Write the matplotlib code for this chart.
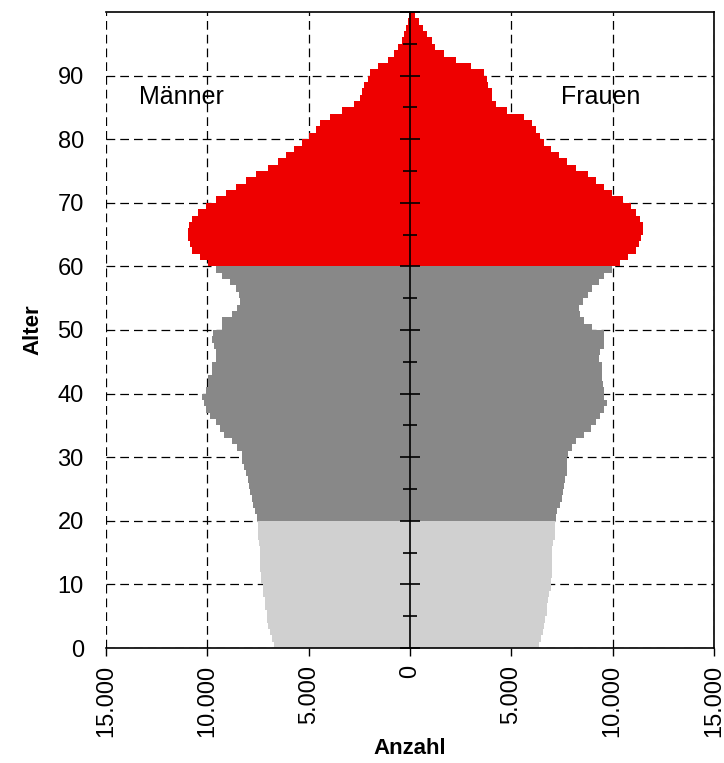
import numpy as np
import matplotlib
matplotlib.use("Agg")
import matplotlib.pyplot as plt
from matplotlib.ticker import FuncFormatter, MultipleLocator

plt.rcParams['font.family'] = ['Liberation Sans', 'DejaVu Sans']

# Alter 0..99, Anzahl in Tausend
ages = np.arange(100)

men_k = [
    6.72, 6.82, 6.92, 7.00, 7.05, 7.08, 7.16, 7.16, 7.25, 7.25,
    7.33, 7.33, 7.41, 7.41, 7.41, 7.41, 7.43, 7.48, 7.48, 7.50,
    7.57, 7.64, 7.74, 7.80, 7.87, 7.94, 8.00, 8.10, 8.20, 8.27,
    8.30, 8.56, 8.76, 9.19, 9.39, 9.58, 9.88, 10.05, 10.15, 10.25,
    10.05, 9.98, 9.98, 9.78, 9.78, 9.58, 9.58, 9.68, 9.78, 9.72,
    9.29, 9.29, 8.79, 8.56, 8.40, 8.45, 8.60, 8.89, 9.29, 9.58,
    9.98, 10.38, 10.77, 10.87, 10.97, 10.97, 10.90, 10.77, 10.47, 10.08,
    9.58, 9.09, 8.60, 8.10, 7.61, 7.02, 6.52, 6.13, 5.73, 5.34,
    4.97, 4.64, 4.45, 3.95, 3.36, 2.77, 2.47, 2.37, 2.27, 2.08,
    1.98, 1.58, 1.09, 0.79, 0.59, 0.40, 0.30, 0.20, 0.10, 0.07,
]

women_k = [
    6.36, 6.45, 6.55, 6.60, 6.65, 6.75, 6.78, 6.82, 6.85, 6.95,
    6.97, 7.02, 7.02, 7.02, 7.02, 7.02, 7.05, 7.15, 7.15, 7.15,
    7.18, 7.25, 7.38, 7.48, 7.54, 7.58, 7.67, 7.74, 7.77, 7.77,
    7.80, 8.00, 8.20, 8.60, 8.93, 9.16, 9.39, 9.55, 9.72, 9.58,
    9.55, 9.52, 9.49, 9.49, 9.45, 9.35, 9.39, 9.55, 9.55, 9.55,
    9.00, 8.60, 8.40, 8.36, 8.56, 8.79, 9.00, 9.35, 9.58, 9.98,
    10.38, 10.77, 11.17, 11.30, 11.40, 11.50, 11.50, 11.33, 11.17, 10.90,
    10.51, 9.98, 9.55, 9.19, 8.79, 8.20, 7.74, 7.35, 6.95, 6.62,
    6.39, 6.23, 6.03, 5.63, 4.78, 4.25, 4.05, 4.05, 3.85, 3.82,
    3.66, 3.00, 2.27, 1.68, 1.25, 1.09, 0.86, 0.63, 0.43, 0.23,
]

men = np.array(men_k) * 1000
women = np.array(women_k) * 1000

# Farben nach Altersgruppe
colors = ['#d0d0d0' if a < 20 else '#888888' if a < 60 else '#ee0000' for a in ages]

fig = plt.figure(figsize=(7.24, 7.63), dpi=100)
ax = fig.add_axes([0.1464, 0.1507, 0.8398, 0.8336])

ax.barh(ages, -men, height=1, align='edge', color=colors, linewidth=0, antialiased=False)
ax.barh(ages, women, height=1, align='edge', color=colors, linewidth=0, antialiased=False)

ax.set_xlim(-15000, 15000)
ax.set_ylim(0, 100)
ax.set_xticks(np.arange(-15000, 15001, 5000))
ax.set_yticks(np.arange(0, 91, 10))
ax.xaxis.set_major_formatter(FuncFormatter(lambda v, p: '{:,.0f}'.format(abs(v)).replace(',', '.')))
ax.tick_params(axis='x', direction='out', length=6, width=1, labelsize=17, labelrotation=90, pad=6)
ax.tick_params(axis='y', length=0, labelsize=17, pad=16)

ax.set_axisbelow(True)
ax.grid(True, color='black', linestyle=(0, (7, 4)), linewidth=0.9)

for s in ['top', 'right', 'bottom']:
    ax.spines[s].set_color('black')
    ax.spines[s].set_linewidth(1.2)
ax.spines['left'].set_visible(False)

ax.set_ylabel('Alter', fontsize=16, fontweight='bold', labelpad=10)
ax.set_xlabel('Anzahl', fontsize=16, fontweight='bold', labelpad=1)

ax.text(-11300, 86.6, 'Männer', fontsize=18, ha='center', va='center')
ax.text(9400, 86.6, 'Frauen', fontsize=18, ha='center', va='center')

# Mittelachse mit Teilstrichen
ax2 = ax.twinx()
ax2.set_ylim(0, 100)
for s in ['top', 'right', 'bottom']:
    ax2.spines[s].set_visible(False)
ax2.spines['left'].set_position(('data', 0))
ax2.spines['left'].set_color('black')
ax2.spines['left'].set_linewidth(1.2)
ax2.yaxis.set_ticks_position('left')
ax2.yaxis.set_major_locator(MultipleLocator(10))
ax2.yaxis.set_minor_locator(MultipleLocator(5))
ax2.tick_params(axis='y', which='major', direction='inout', length=14, width=1.2, labelleft=False)
ax2.tick_params(axis='y', which='minor', direction='inout', length=10, width=1.2, labelleft=False)

fig.savefig('out.png', dpi=100)
